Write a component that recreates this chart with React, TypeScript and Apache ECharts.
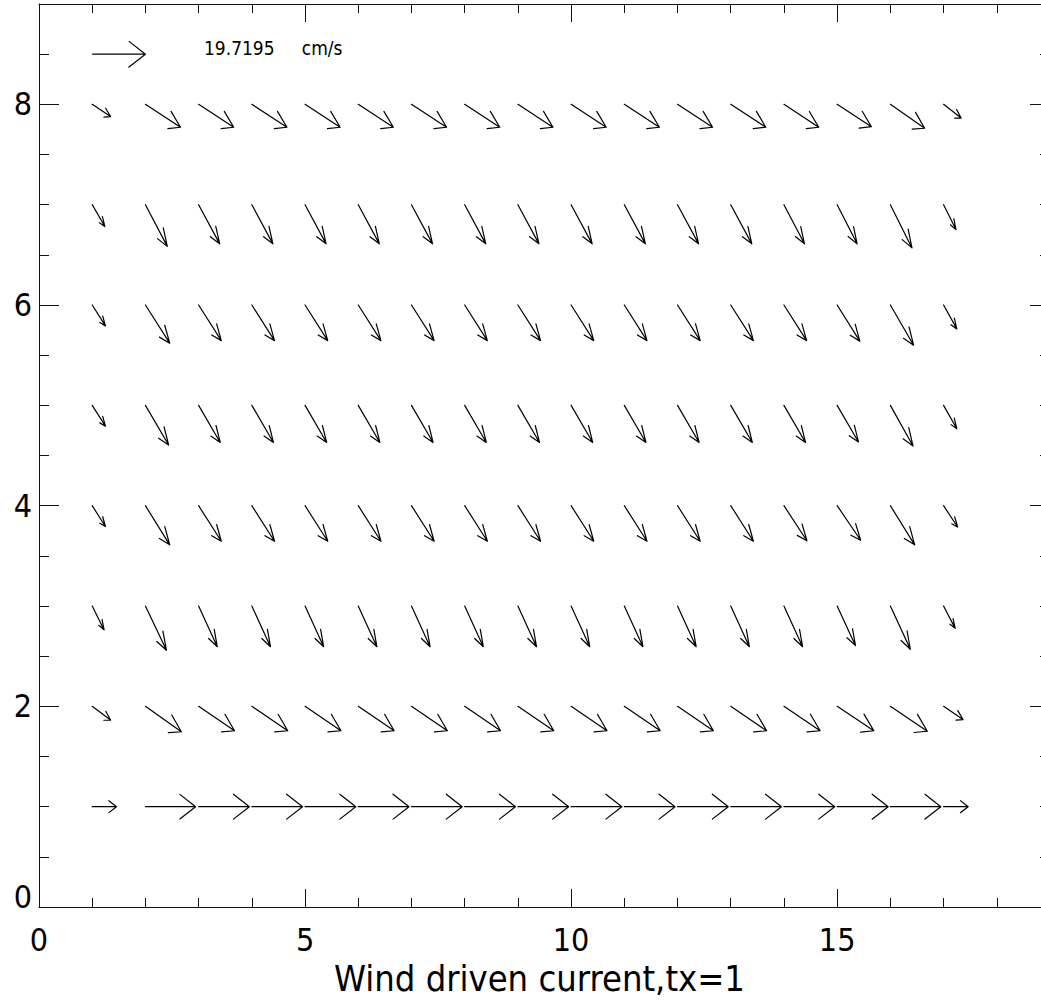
import React, { useEffect, useRef } from 'react';
import * as echarts from 'echarts';

const FONT =
  '"Liberation Sans Narrow", "Arial Narrow", "DejaVu Sans Condensed", "Liberation Sans", Arial, sans-serif';

// grid positions (data units)
const columnsX = [1, 2, 3, 4, 5, 6, 7, 8, 9, 10, 11, 12, 13, 14, 15, 16, 17, 18];
const rowsY = [1, 2, 3, 4, 5, 6, 7, 8];

// reference vector: this speed is drawn one x-unit long
const REF_SPEED = 19.7195;
const REF_UNIT = 'cm/s';
const refPosX = 1;
const refPosY = 8.5;

// current components (cm/s) per row, columns 1..18
const uRow1 = [9.0, 18.6, 18.8, 18.8, 18.8, 18.8, 18.8, 18.8, 18.8, 18.8, 18.8, 18.8, 18.8, 18.8, 18.9, 18.7, 9.1, 0];
const vRow1 = [0, 0, 0, 0, 0, 0, 0, 0, 0, 0, 0, 0, 0, 0, 0, 0, 0, 0];
const uRow2 = [6.8, 13.3, 13.3, 13.3, 13.3, 13.3, 13.3, 13.3, 13.3, 13.3, 13.3, 13.3, 13.3, 13.4, 13.6, 13.7, 7.2, 0];
const vRow2 = [-2.7, -5.0, -4.8, -4.8, -4.8, -4.8, -4.8, -4.8, -4.8, -4.8, -4.8, -4.8, -4.8, -4.8, -4.8, -4.9, -2.6, 0];
const uRow3 = [4.4, 7.8, 6.9, 6.9, 6.9, 6.9, 6.9, 6.9, 6.9, 6.9, 6.9, 6.9, 6.9, 6.9, 6.8, 7.4, 4.3, 0];
const vRow3 = [-4.7, -8.7, -8.0, -8.0, -8.0, -8.0, -8.0, -8.0, -8.0, -8.0, -8.0, -8.0, -8.0, -8.0, -7.8, -8.5, -4.4, 0];
const uRow4 = [4.9, 9.0, 8.4, 8.4, 8.4, 8.4, 8.4, 8.4, 8.4, 8.4, 8.4, 8.4, 8.4, 8.5, 8.7, 9.0, 5.2, 0];
const vRow4 = [-4.1, -7.7, -7.0, -7.0, -7.0, -7.0, -7.0, -7.0, -7.0, -7.0, -7.0, -7.0, -7.0, -6.9, -6.8, -7.7, -4.2, 0];
const uRow5 = [4.9, 8.6, 8.0, 8.0, 8.0, 8.0, 8.0, 8.0, 8.0, 8.0, 8.0, 8.0, 8.0, 8.0, 7.9, 8.4, 4.9, 0];
const vRow5 = [-4.1, -7.8, -7.3, -7.3, -7.3, -7.3, -7.3, -7.3, -7.3, -7.3, -7.3, -7.3, -7.3, -7.3, -7.2, -8.0, -4.6, 0];
const uRow6 = [4.9, 9.0, 8.4, 8.4, 8.4, 8.4, 8.4, 8.4, 8.4, 8.4, 8.4, 8.4, 8.4, 8.4, 8.4, 8.6, 4.9, 0];
const vRow6 = [-4.1, -7.5, -7.0, -7.0, -7.0, -7.0, -7.0, -7.0, -7.0, -7.0, -7.0, -7.0, -7.0, -7.0, -7.1, -7.9, -4.7, 0];
const uRow7 = [4.7, 8.1, 7.8, 7.8, 7.8, 7.8, 7.8, 7.8, 7.8, 7.8, 7.8, 7.8, 7.8, 7.6, 7.4, 8.0, 4.6, 0];
const vRow7 = [-4.3, -8.2, -7.7, -7.7, -7.7, -7.7, -7.7, -7.7, -7.7, -7.7, -7.7, -7.7, -7.7, -7.7, -7.7, -8.5, -4.9, 0];
const uRow8 = [6.8, 13.0, 13.0, 13.0, 13.0, 13.0, 13.0, 13.0, 13.0, 13.0, 13.0, 13.0, 13.0, 12.9, 12.7, 12.7, 6.5, 0];
const vRow8 = [-2.4, -4.5, -4.5, -4.5, -4.5, -4.5, -4.5, -4.5, -4.5, -4.5, -4.5, -4.5, -4.5, -4.5, -4.4, -4.7, -2.7, 0];

const uRows = [uRow1, uRow2, uRow3, uRow4, uRow5, uRow6, uRow7, uRow8];
const vRows = [vRow1, vRow2, vRow3, vRow4, vRow5, vRow6, vRow7, vRow8];

const X_MIN = 0;
const X_MAX = 19;
const Y_MIN = 0;
const Y_MAX = 9;
const TITLE = 'Wind driven current,tx=1';

// arrowhead geometry (IDL velovect style, in data units)
const HEAD_R = 0.34;
const HEAD_ANGLE = (22.5 * Math.PI) / 180;

function arrowPoints(api: any, x: number, y: number, u: number, v: number) {
  const dx = u / REF_SPEED;
  const dy = v / REF_SPEED;
  const ct = HEAD_R * Math.cos(HEAD_ANGLE);
  const st = HEAD_R * Math.sin(HEAD_ANGLE);
  const x1 = x + dx;
  const y1 = y + dy;
  const pts = [
    [x, y],
    [x1, y1],
    [x1 - (ct * dx - st * dy), y1 - (ct * dy + st * dx)],
    [x1, y1],
    [x1 - (ct * dx + st * dy), y1 - (ct * dy - st * dx)],
  ];
  return pts.map((p) => api.coord(p));
}

export default function App() {
  const ref = useRef<HTMLDivElement>(null);

  useEffect(() => {
    const chart = echarts.init(ref.current!, null, { renderer: 'svg' });

    const vectorData: number[][] = [];
    rowsY.forEach((yv, ri) => {
      columnsX.forEach((xv, ci) => {
        vectorData.push([xv, yv, uRows[ri][ci], vRows[ri][ci]]);
      });
    });

    const lineStyle = { color: '#111', width: 1 };
    const mkX = (position: string, interval: number, tickLen: number, labels: boolean, line: boolean) => ({
      type: 'value',
      position,
      min: X_MIN,
      max: X_MAX,
      interval,
      splitLine: { show: false },
      axisLine: { show: line, onZero: false, lineStyle },
      axisTick: { show: true, inside: true, length: tickLen, lineStyle },
      minorTick: { show: false },
      axisLabel: labels
        ? {
            show: true,
            showMaxLabel: false,
            margin: 17,
            fontSize: 32,
            fontFamily: FONT,
            color: '#000',
          }
        : { show: false },
      ...(labels
        ? {
            name: TITLE,
            nameLocation: 'middle',
            nameGap: 52,
            nameTextStyle: { fontSize: 36, fontFamily: FONT, color: '#000', padding: [0, 10, 0, 0] },
          }
        : {}),
    });
    const mkY = (position: string, interval: number, tickLen: number, labels: boolean, line: boolean) => ({
      type: 'value',
      position,
      min: Y_MIN,
      max: Y_MAX,
      interval,
      splitLine: { show: false },
      axisLine: { show: line, onZero: false, lineStyle },
      axisTick: { show: true, inside: true, length: tickLen, lineStyle },
      minorTick: { show: false },
      axisLabel: labels
        ? {
            show: true,
            showMaxLabel: false,
            margin: 7,
            fontSize: 32,
            fontFamily: FONT,
            color: '#000',
            formatter: (val: number) => (val === 0 ? '{z|0}' : String(val)),
            rich: {
              z: { fontSize: 32, fontFamily: FONT, color: '#000', padding: [0, 0, 20, 0] },
            },
          }
        : { show: false },
    });

    chart.setOption({
      animation: false,
      backgroundColor: '#fff',
      grid: { left: 39, right: 0, top: 4, bottom: 97, containLabel: false },
      xAxis: [
        mkX('bottom', 5, 18, true, true),
        mkX('bottom', 1, 9, false, false),
        mkX('top', 5, 18, false, true),
        mkX('top', 1, 9, false, false),
      ],
      yAxis: [
        mkY('left', 2, 20, true, true),
        mkY('left', 0.5, 10, false, false),
        mkY('right', 2, 20, false, true),
        mkY('right', 0.5, 10, false, false),
      ],
      series: [
        {
          type: 'custom',
          name: 'current',
          xAxisIndex: 0,
          yAxisIndex: 0,
          clip: false,
          data: vectorData,
          renderItem: (params: any, api: any) => {
            const pts = arrowPoints(api, api.value(0), api.value(1), api.value(2), api.value(3));
            return {
              type: 'polyline',
              shape: { points: pts },
              style: { stroke: '#000', lineWidth: 1.2, fill: null, lineJoin: 'round', lineCap: 'round' },
            };
          },
        },
        {
          type: 'custom',
          name: 'reference',
          xAxisIndex: 0,
          yAxisIndex: 0,
          clip: false,
          data: [[refPosX, refPosY, REF_SPEED, 0]],
          renderItem: (params: any, api: any) => {
            const pts = arrowPoints(api, api.value(0), api.value(1), api.value(2), api.value(3));
            const tp = api.coord([api.value(0) + 2.1, api.value(1)]);
            return {
              type: 'group',
              children: [
                {
                  type: 'polyline',
                  shape: { points: pts },
                  style: { stroke: '#000', lineWidth: 1.2, fill: null, lineJoin: 'round' },
                },
                {
                  type: 'text',
                  x: tp[0],
                  y: tp[1] - 6,
                  style: {
                    text: REF_SPEED.toFixed(4) + '     ' + REF_UNIT,
                    fontSize: 19,
                    fontFamily: FONT,
                    fill: '#000',
                    align: 'left',
                    verticalAlign: 'middle',
                  },
                },
              ],
            };
          },
        },
      ],
    });

    return () => chart.dispose();
  }, []);

  return (
    <div
      style={{ position: 'fixed', left: 0, top: 0, width: 1041, height: 1004, overflow: 'hidden', background: '#fff' }}
    >
      <div ref={ref} style={{ width: 1050, height: 1004 }} />
    </div>
  );
}
